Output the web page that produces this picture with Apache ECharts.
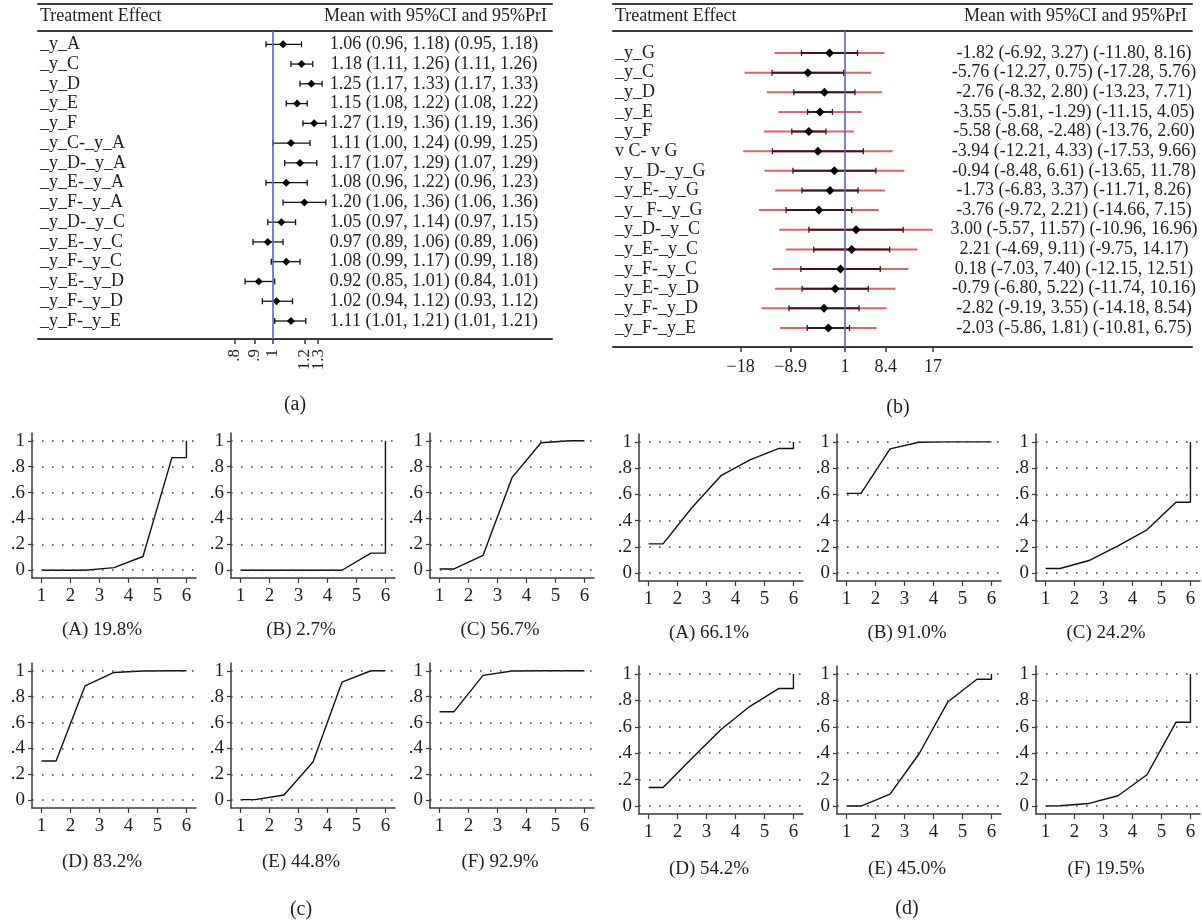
<!DOCTYPE html>
<html>
<head>
<meta charset="utf-8">
<title>Treatment effects and cumulative rank probabilities</title>
<script src="https://cdn.jsdelivr.net/npm/echarts@6/dist/echarts.min.js"></script>
<style>
  html, body { margin: 0; padding: 0; background: #fff; }
  #chart { width: 1202px; height: 923px; }
</style>
</head>
<body>
<div id="chart"></div>
<script>
const FONT = '"Liberation Serif", "DejaVu Serif", serif'
const INK = '#1f1f1f'
const RULE = '#3a3a3a'

// (a) treatment effects, ratio scale
const labelsA = ['_y_A', '_y_C', '_y_D', '_y_E', '_y_F', '_y_C-_y_A', '_y_D-_y_A', '_y_E-_y_A',
  '_y_F-_y_A', '_y_D-_y_C', '_y_E-_y_C', '_y_F-_y_C', '_y_E-_y_D', '_y_F-_y_D', '_y_F-_y_E']
const meanA = [1.06, 1.18, 1.25, 1.15, 1.27, 1.11, 1.17, 1.08, 1.20, 1.05, 0.97, 1.08, 0.92, 1.02, 1.11]
const ciLoA = [0.96, 1.11, 1.17, 1.08, 1.19, 1.00, 1.07, 0.96, 1.06, 0.97, 0.89, 0.99, 0.85, 0.94, 1.01]
const ciHiA = [1.18, 1.26, 1.33, 1.22, 1.36, 1.24, 1.29, 1.22, 1.36, 1.14, 1.06, 1.17, 1.01, 1.12, 1.21]
const piLoA = [0.95, 1.11, 1.17, 1.08, 1.19, 0.99, 1.07, 0.96, 1.06, 0.97, 0.89, 0.99, 0.84, 0.93, 1.01]
const piHiA = [1.18, 1.26, 1.33, 1.22, 1.36, 1.25, 1.29, 1.23, 1.36, 1.15, 1.06, 1.18, 1.01, 1.12, 1.21]
const ticksA = [0.8, 0.9, 1, 1.2, 1.3]
const tickLabelsA = ['.8', '.9', '1', '1.2', '1.3']

// (b) treatment effects, mean difference
const labelsB = ['_y_G', '_y_C', '_y_D', '_y_E', '_y_F', 'v C- v G', '_y_ D-_y_G', '_y_E-_y_G',
  '_y_ F-_y_G', '_y_D-_y_C', '_y_E-_y_C', '_y_F-_y_C', '_y_E-_y_D', '_y_F-_y_D', '_y_F-_y_E']
const meanB = [-1.82, -5.76, -2.76, -3.55, -5.58, -3.94, -0.94, -1.73, -3.76, 3.00, 2.21, 0.18, -0.79, -2.82, -2.03]
const ciLoB = [-6.92, -12.27, -8.32, -5.81, -8.68, -12.21, -8.48, -6.83, -9.72, -5.57, -4.69, -7.03, -6.80, -9.19, -5.86]
const ciHiB = [3.27, 0.75, 2.80, -1.29, -2.48, 4.33, 6.61, 3.37, 2.21, 11.57, 9.11, 7.40, 5.22, 3.55, 1.81]
const piLoB = [-11.80, -17.28, -13.23, -11.15, -13.76, -17.53, -13.65, -11.71, -14.66, -10.96, -9.75, -12.15, -11.74, -14.18, -10.81]
const piHiB = [8.16, 5.76, 7.71, 4.05, 2.60, 9.66, 11.78, 8.26, 7.15, 16.96, 14.17, 12.51, 10.16, 8.54, 6.75]
const ticksB = [-18, -8.9, 1, 8.4, 17]
const tickLabelsB = ['\u221218', '\u22128.9', '1', '8.4', '17']

// (c), (d) cumulative rank probabilities
const rankX = [1, 1.5, 2.5, 3.5, 4.5, 5.5, 6, 6]
const rankTicks = [1, 2, 3, 4, 5, 6]
const probTicks = [0, 0.2, 0.4, 0.6, 0.8, 1]
const letters = ['A', 'B', 'C', 'D', 'E', 'F']

const cumCA = [0, 0, 0, 0.02, 0.106, 0.87, 0.87, 1]
const cumCB = [0, 0, 0, 0, 0, 0.132, 0.132, 1]
const cumCC = [0.01, 0.01, 0.114, 0.715, 0.985, 1, 1, 1]
const cumCD = [0.303, 0.303, 0.883, 0.987, 0.998, 1, 1, 1]
const cumCE = [0.005, 0.005, 0.04, 0.295, 0.912, 1, 1, 1]
const cumCF = [0.684, 0.684, 0.964, 0.998, 1, 1, 1, 1]
const sucraC = ['19.8', '2.7', '56.7', '83.2', '44.8', '92.9']

const cumDA = [0.223, 0.223, 0.50, 0.742, 0.863, 0.95, 0.95, 1]
const cumDB = [0.608, 0.608, 0.947, 0.997, 1, 1, 1, 1]
const cumDC = [0.035, 0.035, 0.096, 0.207, 0.33, 0.54, 0.54, 1]
const cumDD = [0.141, 0.141, 0.361, 0.58, 0.755, 0.89, 0.89, 1]
const cumDE = [0, 0, 0.09, 0.394, 0.79, 0.96, 0.96, 1]
const cumDF = [0, 0.002, 0.02, 0.078, 0.237, 0.634, 0.634, 1]
const sucraD = ['66.1', '91.0', '24.2', '54.2', '45.0', '19.5']

const grid = []
const xAxis = []
const yAxis = []
const series = []
const texts = []

function txt(x, y, s, align, size) {
  texts.push({
    type: 'text', x, y, silent: true,
    style: { text: s, align: align || 'center', verticalAlign: 'middle', fontFamily: FONT, fontSize: size || 19, fill: INK }
  })
}

function pick(list, ticks, v) {
  const i = ticks.findIndex(t => Math.abs(t - v) < 1e-6)
  return i < 0 ? '' : list[i]
}

function fmt(v) { return v.toFixed(2) }

function forestItem(withPi) {
  return function (params, api) {
    const row = api.value(0)
    const m = api.coord([api.value(1), row])
    const lo = api.coord([api.value(2), row])
    const hi = api.coord([api.value(3), row])
    const children = []
    if (withPi) {
      const plo = api.coord([api.value(4), row])
      const phi = api.coord([api.value(5), row])
      children.push({ type: 'line', shape: { x1: plo[0], y1: plo[1], x2: phi[0], y2: phi[1] },
        style: { stroke: '#db3a43', lineWidth: 2, opacity: 0.8 } })
    }
    const ink = withPi ? '#3b1717' : '#111'
    const lw = withPi ? 2 : 1.3
    const cap = 3
    children.push({ type: 'line', shape: { x1: lo[0], y1: lo[1], x2: hi[0], y2: hi[1] }, style: { stroke: ink, lineWidth: lw } })
    children.push({ type: 'line', shape: { x1: lo[0], y1: lo[1] - cap, x2: lo[0], y2: lo[1] + cap }, style: { stroke: ink, lineWidth: 1.3 } })
    children.push({ type: 'line', shape: { x1: hi[0], y1: hi[1] - cap, x2: hi[0], y2: hi[1] + cap }, style: { stroke: ink, lineWidth: 1.3 } })
    const d = withPi ? 4.5 : 4
    children.push({ type: 'polygon', shape: { points: [[m[0], m[1] - d], [m[0] + d, m[1]], [m[0], m[1] + d], [m[0] - d, m[1]]] },
      style: { fill: '#000' } })
    return { type: 'group', children }
  }
}

function addForest(cfg) {
  const gi = grid.length
  grid.push({ left: cfg.left, top: cfg.top, width: cfg.width, height: cfg.height, outerBoundsMode: 'none' })
  const rule = { show: true, onZero: false, lineStyle: { color: RULE, width: 2 } }
  const xBase = { type: cfg.xType, gridIndex: gi, min: cfg.xMin, max: cfg.xMax, splitLine: { show: false } }
  if (cfg.xType === 'log') xBase.logBase = Math.E
  const labelStyle = { rotate: cfg.rotate, margin: cfg.labelMargin, hideOverlap: false,
    fontFamily: FONT, fontSize: cfg.tickFont, color: INK, formatter: v => pick(cfg.tickLabels, cfg.ticks, v) }
  // neighbouring tick labels sit close together, so they are split over two axes
  const evenTicks = cfg.ticks.filter((_, i) => i % 2 === 0)
  const oddTicks = cfg.ticks.filter((_, i) => i % 2 === 1)
  const xi = xAxis.length
  xAxis.push(Object.assign({}, xBase, {
    position: 'bottom',
    axisLine: rule,
    axisTick: { show: true, customValues: cfg.ticks, length: 5, lineStyle: { color: RULE, width: 1.5 } },
    axisLabel: Object.assign({ customValues: evenTicks }, labelStyle)
  }))
  xAxis.push(Object.assign({}, xBase, {
    position: 'bottom', offset: 0,
    axisLine: { show: false, onZero: false }, axisTick: { show: false },
    axisLabel: Object.assign({ customValues: oddTicks }, labelStyle)
  }))
  for (const off of [0, 27]) {
    xAxis.push(Object.assign({}, xBase, {
      position: 'top', offset: off,
      axisLine: rule, axisTick: { show: false }, axisLabel: { show: false }
    }))
  }
  const rows = cfg.labels.map((_, i) => i)
  const yi = yAxis.length
  const yBase = { type: 'value', gridIndex: gi, min: cfg.yMin, max: cfg.yMax, inverse: true,
    axisLine: { show: false, onZero: false }, axisTick: { show: false }, splitLine: { show: false } }
  yAxis.push(Object.assign({}, yBase, {
    position: 'left',
    axisLabel: { customValues: rows, formatter: v => cfg.labels[v], inside: true, align: 'left', margin: 2,
      hideOverlap: false, fontFamily: FONT, fontSize: 18, color: INK }
  }))
  const valueTexts = rows.map(i => `${fmt(cfg.mean[i])} (${fmt(cfg.ciLo[i])}, ${fmt(cfg.ciHi[i])}) (${fmt(cfg.piLo[i])}, ${fmt(cfg.piHi[i])})`)
  yAxis.push(Object.assign({}, yBase, {
    position: 'right',
    axisLabel: { customValues: rows, formatter: v => valueTexts[v], inside: true, align: 'center',
      margin: cfg.left + cfg.width - cfg.textCenter, hideOverlap: false, fontFamily: FONT, fontSize: 18, color: INK }
  }))
  series.push({
    type: 'custom', xAxisIndex: xi, yAxisIndex: yi,
    renderItem: forestItem(cfg.withPi),
    encode: { x: [1, 2, 3], y: 0 },
    data: rows.map(i => [i, cfg.mean[i], cfg.ciLo[i], cfg.ciHi[i], cfg.piLo[i], cfg.piHi[i]]),
    markLine: {
      silent: true, symbol: ['none', 'none'], label: { show: false },
      lineStyle: { color: '#5c64b8', width: 1.6, type: 'solid' },
      data: [{ xAxis: 1 }]
    },
    z: 3
  })
  txt(cfg.left + 2, 16, 'Treatment Effect', 'left', 18)
  txt(cfg.left + cfg.width - 5, 16, 'Mean with 95%CI and 95%PrI', 'right', 18)
}

// ratios drawn on a log scale, 1 sits at the blue line
addForest({
  left: 38, top: 31, width: 514, height: 308, xType: 'log', xMin: 0.255, xMax: 5.064, yMin: -0.672, yMax: 14.91,
  labels: labelsA, mean: meanA, ciLo: ciLoA, ciHi: ciHiA, piLo: piLoA, piHi: piHiA,
  ticks: ticksA, tickLabels: tickLabelsA, rotate: 90, labelMargin: 10, tickFont: 17, textCenter: 434, withPi: false
})
addForest({
  left: 613, top: 31, width: 579, height: 316, xType: 'value', xMin: -41.2, xMax: 64.1, yMin: -1.12, yMax: 14.97,
  labels: labelsB, mean: meanB, ciLo: ciLoB, ciHi: ciHiB, piLo: piLoB, piHi: piHiB,
  ticks: ticksB, tickLabels: tickLabelsB, rotate: 0, labelMargin: 11, tickFont: 18, textCenter: 1074, withPi: true
})

function addRankChart(left, top, height, curve, caption, capY) {
  const gi = grid.length
  const width = 164
  grid.push({ left, top, width, height, outerBoundsMode: 'none' })
  const axisLine = { show: true, onZero: false, lineStyle: { color: RULE, width: 1.5 } }
  const tickStyle = { color: RULE, width: 1.2 }
  const xi = xAxis.length
  xAxis.push({
    type: 'value', gridIndex: gi, min: 0.67, max: 6.33, axisLine,
    axisTick: { show: true, customValues: rankTicks, length: 5, lineStyle: tickStyle },
    axisLabel: { customValues: rankTicks, margin: 9, hideOverlap: false, fontFamily: FONT, fontSize: 19, color: INK },
    splitLine: { show: false }
  })
  const yi = yAxis.length
  yAxis.push({
    type: 'value', gridIndex: gi, min: -0.06, max: 1.06, axisLine,
    axisTick: { show: true, customValues: probTicks, length: 4, lineStyle: tickStyle },
    axisLabel: {
      customValues: probTicks, margin: 7, hideOverlap: false, fontFamily: FONT, fontSize: 19, color: INK,
      formatter: v => (v === 0 || v === 1) ? String(v) : String(v).replace('0.', '.')
    },
    splitLine: { show: false }
  })
  series.push({
    type: 'line', xAxisIndex: xi, yAxisIndex: yi,
    data: rankX.map((x, i) => [x, curve[i]]),
    showSymbol: false, symbol: 'none',
    lineStyle: { color: '#111', width: 1.4 },
    markLine: {
      silent: true, symbol: ['none', 'none'], label: { show: false },
      lineStyle: { color: '#444', width: 1.6, type: [1.6, 8.4] },
      data: probTicks.map(v => ({ yAxis: v }))
    },
    z: 3
  })
  txt(left + width / 2 - 12, capY, caption)
}

const curvesC = [cumCA, cumCB, cumCC, cumCD, cumCE, cumCF]
const curvesD = [cumDA, cumDB, cumDC, cumDD, cumDE, cumDF]
const leftsC = [32, 231, 430]
const leftsD = [639, 837, 1036]

curvesC.forEach((c, i) => {
  const r = Math.floor(i / 3)
  addRankChart(leftsC[i % 3], r ? 663 : 433, 145, c, `(${letters[i]}) ${sucraC[i]}%`, r ? 862 : 630)
})
curvesD.forEach((c, i) => {
  const r = Math.floor(i / 3)
  addRankChart(leftsD[i % 3], r ? 666 : 434, r ? 148 : 147, c, `(${letters[i]}) ${sucraD[i]}%`, r ? 869 : 633)
})

txt(295, 405, '(a)', 'center', 20)
txt(898, 408, '(b)', 'center', 20)
txt(301, 910, '(c)', 'center', 20)
txt(907, 909, '(d)', 'center', 20)

const chart = echarts.init(document.getElementById('chart'))
chart.setOption({
  backgroundColor: '#fff',
  animation: false,
  textStyle: { fontFamily: FONT },
  grid, xAxis, yAxis, series,
  graphic: { elements: texts }
})
window.addEventListener('resize', () => chart.resize())
</script>
</body>
</html>
